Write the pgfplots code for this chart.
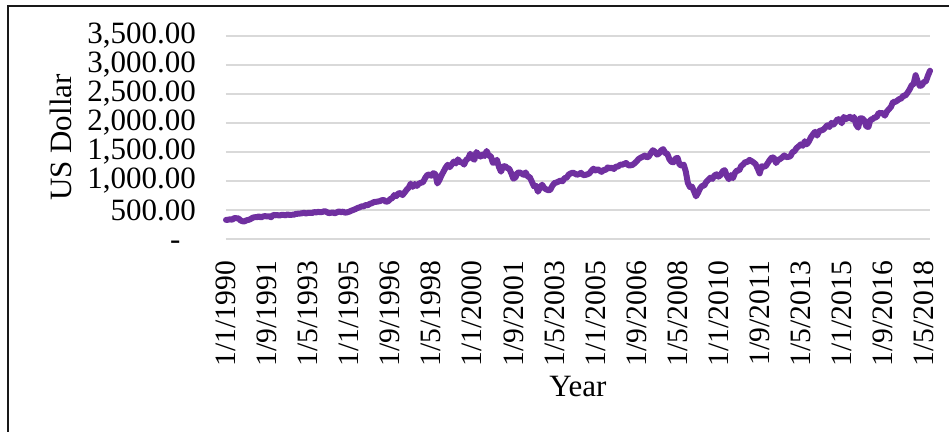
\documentclass[border=0pt]{standalone}
\usepackage{fontspec}
\setmainfont{Liberation Serif}
\usepackage{pgfplots}
\pgfplotsset{compat=1.18}
\definecolor{lineP}{RGB}{112,48,160}
\definecolor{gridG}{RGB}{217,217,217}
\begin{document}
\begin{tikzpicture}
\useasboundingbox (-113pt,-96.5pt) rectangle (361.5pt,119.5pt);
\begin{axis}[
  at={(0,0)}, anchor=south west,
  scale only axis, width=352pt, height=101.5pt,
  xmin=0, xmax=343, ymin=0, ymax=3500,
  enlargelimits=false, clip=false,
  axis line style={draw=none},
  major tick length=0pt,
  ymajorgrids, grid style={line width=0.8pt, color=gridG},
  ytick={0,500,...,3500},
  yticklabels={-\phantom{0},500.00,{1,000.00},{1,500.00},{2,000.00},{2,500.00},{3,000.00},{3,500.00}},
  xtick={0,20,...,340},
  xticklabels={1/1/1990,1/9/1991,1/5/1993,1/1/1995,1/9/1996,1/5/1998,1/1/2000,1/9/2001,1/5/2003,1/1/2005,1/9/2006,1/5/2008,1/1/2010,1/9/2011,1/5/2013,1/1/2015,1/9/2016,1/5/2018},
  yticklabel style={font=\fontsize{15.5}{15.5}\selectfont, anchor=east, xshift=-11.5pt},
  xticklabel style={font=\fontsize{14.8}{14.8}\selectfont, rotate=90, anchor=east},
  xticklabel shift=7.5pt,
  label style={font=\fontsize{15.5}{17}\selectfont},
  xlabel={Year},
  xlabel style={at={(axis description cs:0.5,0)}, anchor=center, yshift=-74pt},
  ylabel={US Dollar},
  ylabel style={at={(axis description cs:-0.235,0.5)}, anchor=center, rotate=0},
]
\addplot[color=lineP, line width=3pt, line join=round, line cap=round, no markers]
table[row sep=\\, header=false, x expr=\coordindex, y index=0]{
329.1\\331.9\\339.9\\330.8\\361.2\\358.0\\356.2\\322.6\\306.1\\304.0\\322.2\\330.2\\
343.9\\367.1\\375.2\\375.3\\389.8\\371.2\\387.8\\395.4\\387.9\\392.5\\375.2\\417.1\\
408.8\\412.7\\403.7\\415.0\\415.4\\408.1\\424.2\\414.0\\417.8\\418.7\\431.4\\435.7\\
438.8\\443.4\\451.7\\440.2\\450.2\\450.5\\448.1\\463.6\\458.9\\467.8\\461.8\\466.5\\
481.6\\467.1\\445.8\\450.9\\456.5\\444.3\\458.3\\475.5\\462.7\\472.4\\453.7\\459.3\\
470.4\\487.4\\500.7\\514.7\\533.4\\544.8\\562.1\\561.9\\584.4\\581.5\\605.4\\615.9\\
636.0\\640.4\\645.5\\654.2\\669.1\\670.6\\640.0\\652.0\\687.3\\705.3\\757.0\\740.7\\
786.2\\790.8\\757.1\\801.3\\848.3\\885.1\\954.3\\899.5\\947.3\\914.6\\955.4\\970.4\\
980.3\\1049.3\\1101.8\\1111.8\\1090.8\\1133.8\\1120.7\\957.3\\1017.0\\1098.7\\1163.6\\1229.2\\
1279.6\\1238.3\\1286.4\\1335.2\\1301.8\\1372.7\\1328.7\\1320.4\\1282.7\\1362.9\\1388.9\\1469.3\\
1394.5\\1366.4\\1498.6\\1452.4\\1420.6\\1454.6\\1430.8\\1517.7\\1436.5\\1429.4\\1315.0\\1320.3\\
1366.0\\1239.9\\1160.3\\1249.5\\1255.8\\1224.4\\1211.2\\1133.6\\1040.9\\1059.8\\1139.5\\1148.1\\
1130.2\\1106.7\\1147.4\\1076.9\\1067.1\\989.8\\911.6\\916.1\\815.3\\885.8\\936.3\\879.8\\
855.7\\841.2\\848.2\\916.9\\963.6\\974.5\\990.3\\1008.0\\996.0\\1050.7\\1058.2\\1111.9\\
1131.1\\1144.9\\1126.2\\1107.3\\1120.7\\1140.8\\1101.7\\1104.2\\1114.6\\1130.2\\1173.8\\1211.9\\
1181.3\\1203.6\\1180.6\\1156.9\\1191.5\\1191.3\\1234.2\\1220.3\\1228.8\\1207.0\\1249.5\\1248.3\\
1280.1\\1280.7\\1294.8\\1310.6\\1270.1\\1270.2\\1276.7\\1303.8\\1335.9\\1377.9\\1400.6\\1418.3\\
1438.2\\1406.8\\1420.9\\1482.4\\1530.6\\1503.4\\1455.3\\1474.0\\1526.8\\1549.4\\1481.1\\1468.4\\
1378.6\\1330.6\\1322.7\\1385.6\\1400.4\\1280.0\\1267.4\\1282.8\\1166.4\\968.8\\896.2\\903.3\\
825.9\\735.1\\797.9\\872.8\\919.1\\919.3\\987.5\\1020.6\\1057.1\\1036.2\\1095.6\\1115.1\\
1073.9\\1104.5\\1169.4\\1186.7\\1089.4\\1030.7\\1101.6\\1049.3\\1141.2\\1183.3\\1180.6\\1257.6\\
1286.1\\1327.2\\1325.8\\1363.6\\1345.2\\1320.6\\1292.3\\1218.9\\1131.4\\1253.3\\1247.0\\1257.6\\
1312.4\\1365.7\\1408.5\\1397.9\\1310.3\\1362.2\\1379.3\\1406.6\\1440.7\\1412.2\\1416.2\\1426.2\\
1498.1\\1514.7\\1569.2\\1597.6\\1630.7\\1606.3\\1685.7\\1633.0\\1681.6\\1756.5\\1805.8\\1848.4\\
1782.6\\1859.5\\1872.3\\1884.0\\1923.6\\1960.2\\1930.7\\2003.4\\1972.3\\2018.1\\2067.6\\2058.9\\
1995.0\\2104.5\\2067.9\\2085.5\\2107.4\\2063.1\\2103.8\\1972.2\\1920.0\\2079.4\\2080.4\\2043.9\\
1940.2\\1932.2\\2059.7\\2065.3\\2097.0\\2098.9\\2173.6\\2171.0\\2168.3\\2126.2\\2198.8\\2238.8\\
2278.9\\2363.6\\2362.7\\2384.2\\2411.8\\2423.4\\2470.3\\2471.7\\2519.4\\2575.3\\2647.6\\2673.6\\
2823.8\\2713.8\\2640.9\\2648.1\\2705.3\\2718.4\\2816.3\\2901.5\\
};
\end{axis}
\draw[line width=1.3pt, color=black!90] (362pt,116.5pt) -- (-109pt,116.5pt) -- (-109pt,-97pt);
\end{tikzpicture}
\end{document}
